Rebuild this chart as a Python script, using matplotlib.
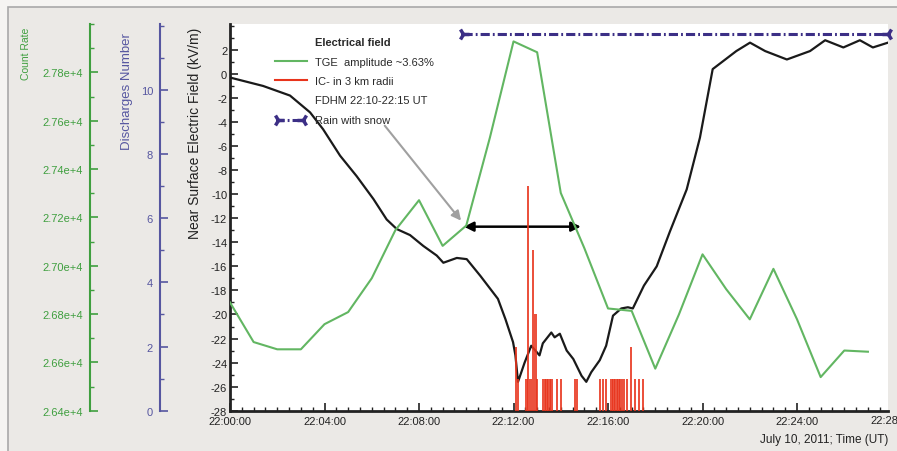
import numpy as np
import matplotlib
matplotlib.use('Agg')
import matplotlib.pyplot as plt
from matplotlib.lines import Line2D
from matplotlib.patches import Rectangle
from matplotlib.ticker import MultipleLocator, FixedLocator, FuncFormatter

plt.rcParams['font.family'] = ['Liberation Sans', 'DejaVu Sans']
plt.rcParams['axes.unicode_minus'] = False

# near surface electric field, minutes after 22:00 UT
field_time = [0.0, 1.40, 2.54, 3.39, 3.94, 4.66, 5.36, 6.07, 6.63, 7.06, 7.62, 8.18,
              8.75, 9.03, 9.60, 10.02, 10.60, 11.34, 11.66, 11.98, 12.08, 12.19,
              12.47, 12.75, 13.10, 13.24, 13.60, 13.74, 13.96, 14.25, 14.53, 14.88,
              15.08, 15.29, 15.65, 15.92, 16.21, 16.56, 16.84, 17.05, 17.52, 18.06,
              18.62, 19.33, 19.89, 20.43, 21.43, 22.01, 22.65, 23.57, 24.55, 25.19,
              25.96, 26.66, 27.21, 27.85]
field_kvm = [-0.3, -1.0, -1.8, -3.2, -4.6, -6.8, -8.5, -10.4, -12.1, -12.9, -13.4, -14.3,
             -15.1, -15.7, -15.3, -15.4, -16.8, -18.7, -20.4, -22.3, -23.4, -25.6,
             -24.0, -22.6, -23.4, -22.4, -21.5, -21.9, -21.6, -23.0, -23.7, -25.1,
             -25.6, -24.8, -23.8, -22.6, -20.1, -19.5, -19.4, -19.5, -17.6, -16.0,
             -13.1, -9.6, -5.3, 0.4, 1.9, 2.6, 1.9, 1.2, 1.9, 2.8,
             2.2, 2.8, 2.2, 2.6]

# TGE count rate (1-min)
tge_time = list(range(28))
tge_count = [26848, 26684, 26654, 26654, 26758, 26808, 26948, 27147, 27271, 27082,
             27166, 27530, 27928, 27883, 27301, 27072, 26823, 26813, 26574, 26798,
             27047, 26903, 26778, 26987, 26778, 26539, 26649, 26644]

# IC discharges within 3 km
ic_time = [12.10, 12.19, 12.55, 12.62, 12.72, 12.82, 12.93, 13.00, 13.26, 13.33,
           13.40, 13.47, 13.54, 13.61, 13.83, 14.00, 14.60, 14.70, 15.66, 15.80,
           15.91, 16.15, 16.23, 16.30, 16.38, 16.45, 16.52, 16.60, 16.67, 16.79,
           16.96, 17.14, 17.32, 17.49]
ic_count = [2, 1, 1, 7, 1, 5, 3, 1, 1, 1,
            1, 1, 1, 1, 1, 1, 1, 1, 1, 1,
            1, 1, 1, 1, 1, 1, 1, 1, 1, 1,
            2, 1, 1, 1]

field_ticks = list(range(-28, 3, 2))
count_ticks = list(range(26400, 27801, 200))
discharge_ticks = [0, 2, 4, 6, 8, 10]
time_ticks = [0, 4, 8, 12, 16, 20, 24]

rain_start, rain_end, rain_level = 9.85, 27.85, 3.3
fdhm_start, fdhm_end, fdhm_level = 9.9, 14.85, -12.7

green = '#62b662'
green_axis = '#3f9f3f'
purple = '#3c2f86'
purple_axis = '#5656a0'
red = '#e8341c'

W, H = 897, 452
fig = plt.figure(figsize=(W / 100, H / 100), dpi=100)
fig.patch.set_facecolor('#f5f4f2')
fig.patches.append(Rectangle((8 / W, -0.01), 1.0, (H - 8) / H + 0.01, transform=fig.transFigure,
                             facecolor='#ebe9e6', edgecolor='#a9a9a9', lw=1.2, zorder=-10))

ax = fig.add_axes([230 / W, (H - 411.7) / H, 658 / W, (411.7 - 25) / H])
ax.set_facecolor('white')
ax.set_xlim(0, 27.85)
ax.set_ylim(-28, 4.15)
for s in ['top', 'right']:
    ax.spines[s].set_visible(False)
for s in ['left', 'bottom']:
    ax.spines[s].set_linewidth(2)
    ax.spines[s].set_color('#222222')

ax.plot(field_time, field_kvm, color='#1a1a1a', lw=1.6, zorder=5)

ax.xaxis.set_major_locator(FixedLocator(time_ticks))
ax.xaxis.set_minor_locator(MultipleLocator(0.5))
ax.xaxis.set_major_formatter(FuncFormatter(lambda v, p: '22:%02d:00' % int(round(v))))
ax.yaxis.set_major_locator(FixedLocator(field_ticks))
ax.yaxis.set_minor_locator(MultipleLocator(1))
ax.tick_params(which='both', direction='in', colors='#222222', labelsize=8)
ax.tick_params(which='major', length=6, width=1.2)
ax.tick_params(which='minor', length=3, width=1)
ax.tick_params(axis='y', pad=2)
ax.tick_params(axis='x', pad=4)
fig.text(870 / W, ax.get_position().y0 - 0.021, '22:28:00', fontsize=8, color='#222222',
         ha='left', va='center')
ax.set_xlabel('July 10, 2011; Time (UT)', loc='right', fontsize=8.5, color='#222222', labelpad=5)
ax.set_ylabel('Near Surface Electric Field (kV/m)', loc='top', fontsize=10, color='#222222')
ax.yaxis.set_label_coords(-0.043, 0.992)

# rain with snow
ax.plot([rain_start, rain_end], [rain_level, rain_level], color=purple, lw=2.2,
        dashes=(3, 1, 0.6, 1), zorder=6, clip_on=False)
ax.plot([rain_start], [rain_level], marker='4', ms=9, mew=2.5, color=purple, zorder=7, clip_on=False)
ax.plot([rain_end], [rain_level], marker='3', ms=9, mew=2.5, color=purple, zorder=7, clip_on=False)

# FDHM arrow and pointer
ax.annotate('', xy=(fdhm_end, fdhm_level), xytext=(fdhm_start, fdhm_level),
            arrowprops=dict(arrowstyle='<|-|>', color='black', lw=1.8, mutation_scale=14,
                            shrinkA=0, shrinkB=0), zorder=8)
ax.annotate('', xy=(9.78, -12.2), xytext=(6.55, -4.3),
            arrowprops=dict(arrowstyle='-|>', color='#a0a0a0', lw=1.5, mutation_scale=14,
                            shrinkA=0, shrinkB=0), zorder=8)

# discharges axis
axd = ax.twinx()
axd.set_ylim(0, 12.05)
axd.bar(ic_time, ic_count, width=0.1, color=red, alpha=0.85, zorder=3)
axd.spines['left'].set_position(('axes', -0.1064))
axd.spines['left'].set_visible(True)
axd.spines['left'].set_color(purple_axis)
axd.spines['left'].set_linewidth(1.5)
for s in ['top', 'right', 'bottom']:
    axd.spines[s].set_visible(False)
axd.yaxis.set_ticks_position('left')
axd.yaxis.set_label_position('left')
axd.yaxis.set_major_locator(FixedLocator(discharge_ticks))
axd.yaxis.set_minor_locator(MultipleLocator(1))
axd.tick_params(which='both', direction='in', colors=purple_axis, labelsize=8, pad=5)
axd.tick_params(which='major', length=6, width=1.2)
axd.tick_params(which='minor', length=3, width=1)
axd.set_ylabel('Discharges Number', loc='top', fontsize=9.5, color=purple_axis)
axd.yaxis.set_label_coords(-0.148, 0.979)

# count rate axis
axc = ax.twinx()
axc.set_ylim(26400, 28000)
axc.plot(tge_time, tge_count, color=green, lw=1.5, zorder=4)
axc.spines['left'].set_position(('axes', -0.2128))
axc.spines['left'].set_visible(True)
axc.spines['left'].set_color(green_axis)
axc.spines['left'].set_linewidth(1.5)
for s in ['top', 'right', 'bottom']:
    axc.spines[s].set_visible(False)
axc.yaxis.set_ticks_position('left')
axc.yaxis.set_label_position('left')
axc.yaxis.set_major_locator(FixedLocator(count_ticks))
axc.yaxis.set_minor_locator(MultipleLocator(100))
axc.yaxis.set_major_formatter(FuncFormatter(lambda v, p: '%.2fe+4' % (v / 1e4)))
axc.tick_params(which='both', direction='in', colors=green_axis, labelsize=8, pad=5)
axc.tick_params(which='major', length=6, width=1.2)
axc.tick_params(which='minor', length=3, width=1)
axc.set_ylabel('Count Rate', loc='top', fontsize=7.5, color=green_axis)
axc.yaxis.set_label_coords(-0.303, 0.992)

# legend (rain handle drawn by hand below)
blank = Line2D([], [], color='none')
handles = [blank, Line2D([], [], color=green, lw=1.5), Line2D([], [], color=red, lw=1.5),
           blank, blank]
labels = ['Electrical field', 'TGE  amplitude ~3.63%', 'IC- in 3 km radii',
          'FDHM 22:10-22:15 UT', 'Rain with snow']
leg = ax.legend(handles, labels, loc='upper left', bbox_to_anchor=(275 / W, 1 - 38.5 / H),
                bbox_transform=fig.transFigure, frameon=False, fontsize=8,
                handlelength=2.9, handletextpad=0.7, labelspacing=0.84, borderpad=0,
                borderaxespad=0)
leg.set_zorder(10)
for i, t in enumerate(leg.get_texts()):
    t.set_color('#2a2a2a')
    t.set_fontweight('bold' if i == 0 else 'normal')

fig.canvas.draw()
bb = leg.get_texts()[4].get_window_extent()
yc = (bb.y0 + bb.y1) / 2 / H
x0, x1 = 278 / W, 303 / W
fig.add_artist(Line2D([x0, x1], [yc, yc], color=purple, lw=2.2, dashes=(2, 1, 0.6, 1),
                      transform=fig.transFigure))
fig.add_artist(Line2D([x0], [yc], marker='4', ms=9, mew=2.5, color=purple, transform=fig.transFigure))
fig.add_artist(Line2D([x1], [yc], marker='3', ms=9, mew=2.5, color=purple, transform=fig.transFigure))

fig.savefig('out.png', dpi=100, facecolor=fig.get_facecolor())
